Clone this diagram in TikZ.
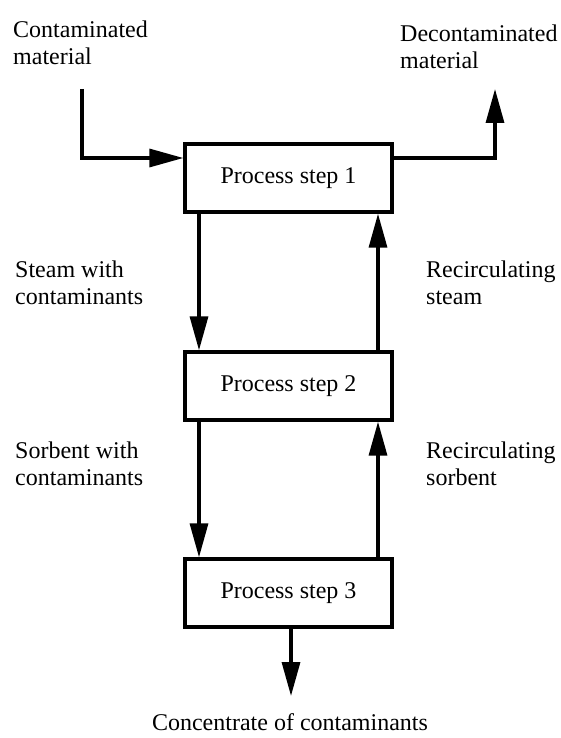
\documentclass[tikz,border=0pt]{standalone}
\usepackage{fontspec}
\setmainfont{Liberation Serif}
\usetikzlibrary{arrows.meta,positioning}

\begin{document}
\begin{tikzpicture}[x=1pt,y=-1pt,
  stepbox/.style={draw,line width=3.3pt,minimum width=207pt,minimum height=68pt,
    inner sep=0pt,font=\fontsize{24}{27}\selectfont},
  lbl/.style={align=left,anchor=north west,inner sep=0pt,
    font=\fontsize{24}{27}\selectfont},
  flow/.style={line width=3.3pt,-{Triangle[length=34pt,width=18pt]}}]
\useasboundingbox (0,0) rectangle (561,738);

\node[stepbox] (s1) at (288.5,178) {Process step 1};
\node[stepbox] (s2) at (288.5,386) {Process step 2};
\node[stepbox] (s3) at (288.5,593) {Process step 3};

\node[lbl] (inlbl) at (13,21) {Contaminated\\material};
\node[lbl] (outlbl) at (400,25) {Decontaminated\\material};
\node[lbl] (steamdown) at (15,261) {Steam with\\contaminants};
\node[lbl] (steamup) at (426,261) {Recirculating\\steam};
\node[lbl] (sorbdown) at (15,442) {Sorbent with\\contaminants};
\node[lbl] (sorbup) at (426,442) {Recirculating\\sorbent};
\node[lbl,anchor=north] (conc) at (290,713) {Concentrate of contaminants};

\coordinate (feed) at (82,89);
\coordinate (product) at (495,89);
\coordinate (waste) at (291,696);

% feed and product
\draw[flow,line join=miter] (feed) |- (s1.west |- 0,158);
\draw[flow,line join=miter] (s1.east |- 0,158) -| (product);

% between the steps
\draw[flow] (s1.south -| 199,0) -- (s2.north -| 199,0);
\draw[flow] (s2.north -| 378,0) -- (s1.south -| 378,0);
\draw[flow] (s2.south -| 199,0) -- (s3.north -| 199,0);
\draw[flow] (s3.north -| 378,0) -- (s2.south -| 378,0);

\draw[flow] (s3.south -| waste) -- (waste);
\end{tikzpicture}
\end{document}
